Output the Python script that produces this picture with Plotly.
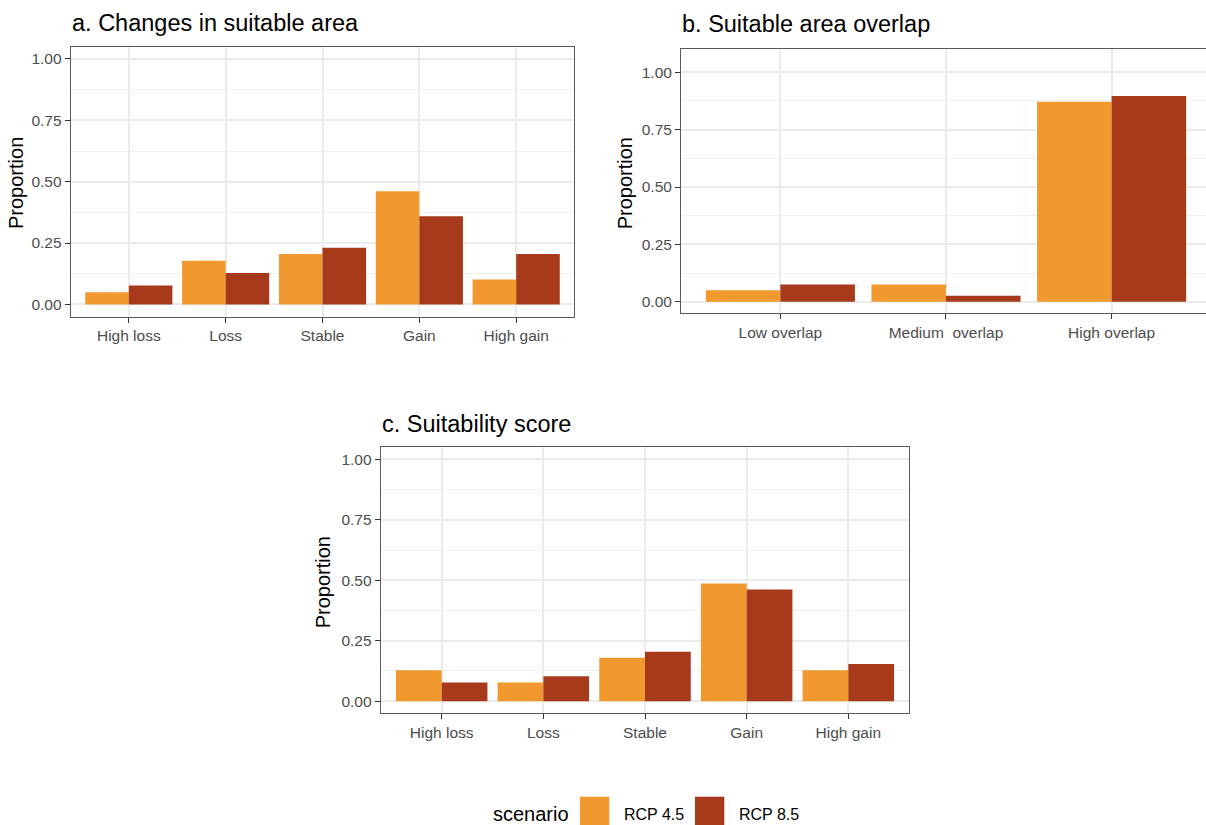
import plotly.graph_objects as go

W, H = 1206, 825

# ---- data -------------------------------------------------------------
CHANGE_CATS = ["High loss", "Loss", "Stable", "Gain", "High gain"]
OVERLAP_CATS = ["Low overlap", "Medium\u00a0 overlap", "High overlap"]
SCENARIOS = ["RCP 4.5", "RCP 8.5"]

change_rcp45 = [0.050, 0.178, 0.205, 0.461, 0.102]
change_rcp85 = [0.077, 0.128, 0.231, 0.359, 0.205]

overlap_rcp45 = [0.050, 0.075, 0.871]
overlap_rcp85 = [0.075, 0.026, 0.897]

score_rcp45 = [0.128, 0.077, 0.180, 0.487, 0.128]
score_rcp85 = [0.077, 0.103, 0.205, 0.462, 0.154]

Y_TICKS = [0.0, 0.25, 0.50, 0.75, 1.00]
Y_TICK_TEXT = ["0.00", "0.25", "0.50", "0.75", "1.00"]
Y_MINOR = [0.125, 0.375, 0.625, 0.875]

PANEL_TITLES = ["a. Changes in suitable area", "b. Suitable area overlap", "c. Suitability score"]
Y_TITLE = "Proportion"
LEGEND_TITLE = "scenario"

# ---- style ------------------------------------------------------------
COLORS = {"RCP 4.5": "#F1992E", "RCP 8.5": "#A63A1A"}
FONT = "Liberation Sans, Arial, Helvetica, sans-serif"
TICK_FONT = dict(family=FONT, size=15.5, color="#4D4D4D")
GRID = "#EBEBEB"
BORDER = "#5A5A5A"


def px_x(x):
    return x / W


def px_y(y):
    return 1 - y / H


fig = go.Figure()

panels = [
    ("x", "y", CHANGE_CATS, change_rcp45, change_rcp85),
    ("x2", "y2", OVERLAP_CATS, overlap_rcp45, overlap_rcp85),
    ("x3", "y3", CHANGE_CATS, score_rcp45, score_rcp85),
]

for xa, ya, cats, v45, v85 in panels:
    for name, vals in zip(SCENARIOS, [v45, v85]):
        fig.add_trace(go.Bar(
            x=cats, y=vals, name=name, xaxis=xa, yaxis=ya,
            marker=dict(color=COLORS[name], line=dict(width=0)),
            showlegend=False,
        ))


def x_axis(domain, rng, anchor):
    return dict(
        domain=domain, range=rng, anchor=anchor, type="category",
        showgrid=True, gridcolor=GRID, gridwidth=2,
        ticks="outside", ticklen=5, tickwidth=1, tickcolor="#333333",
        tickfont=TICK_FONT, showline=True, mirror=True,
        linecolor=BORDER, linewidth=1, zeroline=False, fixedrange=True,
    )


def y_axis(domain, rng, anchor, mirror=True):
    return dict(
        domain=domain, range=rng, anchor=anchor,
        tickvals=Y_TICKS, ticktext=Y_TICK_TEXT,
        showgrid=True, gridcolor=GRID, gridwidth=2,
        minor=dict(tickvals=Y_MINOR, showgrid=True, gridcolor="#F0F0F0", gridwidth=1, ticks=""),
        ticks="outside", ticklen=5, tickwidth=1, tickcolor="#333333",
        tickfont=TICK_FONT, showline=True, mirror=mirror,
        linecolor=BORDER, linewidth=1, zeroline=False, fixedrange=True,
    )


# panel frames in pixels: left, right, top, bottom
A = (70.7, 574.3, 46.7, 316.7)
B = (681.0, 1206.0, 49.3, 313.3)
C = (380.7, 909.3, 447.3, 713.3)

fig.update_layout(
    width=W, height=H,
    margin=dict(l=0, r=0, t=0, b=0),
    paper_bgcolor="white", plot_bgcolor="white",
    barmode="group", bargap=0.1, bargroupgap=0,
    font=dict(family=FONT),
    xaxis=x_axis([px_x(A[0]), px_x(A[1])], [-0.6, 4.6], "y"),
    yaxis=y_axis([px_y(A[3]), px_y(A[2])], [-0.05, 1.05], "x"),
    xaxis2=x_axis([px_x(B[0]), px_x(B[1])], [-0.6, 2.57], "y2"),
    yaxis2=y_axis([px_y(B[3]), px_y(B[2])], [-0.05, 1.10], "x2", mirror=False),
    xaxis3=x_axis([px_x(C[0]), px_x(C[1])], [-0.6, 4.6], "y3"),
    yaxis3=y_axis([px_y(C[3]), px_y(C[2])], [-0.05, 1.05], "x3"),
)
# panel b runs off the right edge, so only the top border is mirrored there
fig.layout.xaxis2.mirror = True

annotations = []
# panel titles
for title, (left, _, _, _), cy in zip(PANEL_TITLES, [A, B, C], [23.0, 24.0, 423.5]):
    annotations.append(dict(
        text=title, xref="paper", yref="paper", x=px_x(left - 1), y=px_y(cy),
        xanchor="left", yanchor="middle", showarrow=False,
        font=dict(family=FONT, size=23.5, color="#000000"),
    ))
# y-axis titles
for (left, _, top, bottom), cx in zip([A, B, C], [15.8, 624.5, 322.5]):
    annotations.append(dict(
        text=Y_TITLE, xref="paper", yref="paper", x=px_x(cx), y=px_y((top + bottom) / 2 + 1.5),
        xanchor="center", yanchor="middle", textangle=-90, showarrow=False,
        font=dict(family=FONT, size=20, color="#000000"),
    ))

# legend along the bottom
LEG_Y = 814.0
annotations.append(dict(
    text=LEGEND_TITLE, xref="paper", yref="paper", x=px_x(491.0), y=px_y(LEG_Y),
    xanchor="left", yanchor="middle", showarrow=False,
    font=dict(family=FONT, size=20, color="#000000"),
))
shapes = []
for name, key_left, text_left in zip(SCENARIOS, [580.0, 695.0], [621.5, 736.5]):
    shapes.append(dict(
        type="rect", xref="paper", yref="paper",
        x0=px_x(key_left), x1=px_x(key_left + 29.3),
        y0=px_y(826.0), y1=px_y(796.7),
        fillcolor=COLORS[name], line=dict(width=0),
    ))
    annotations.append(dict(
        text=name, xref="paper", yref="paper", x=px_x(text_left), y=px_y(LEG_Y),
        xanchor="left", yanchor="middle", showarrow=False,
        font=dict(family=FONT, size=16, color="#000000"),
    ))

fig.update_layout(annotations=annotations, shapes=shapes)

fig.write_html("out.html")
